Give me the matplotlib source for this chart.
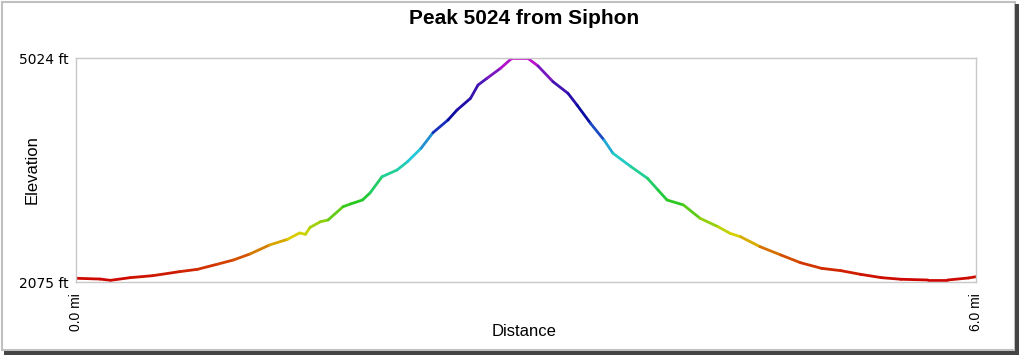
import numpy as np
import matplotlib
matplotlib.use("Agg")
import matplotlib.pyplot as plt
from matplotlib.collections import LineCollection
from matplotlib.colors import LinearSegmentedColormap, Normalize
from matplotlib.patches import Rectangle

# profile (miles, feet)
distance_mi = [0.00, 0.16, 0.23, 0.36, 0.51, 0.69, 0.81, 0.94, 1.05, 1.16,
               1.29, 1.41, 1.49, 1.53, 1.56, 1.63, 1.68, 1.78, 1.83, 1.91,
               1.96, 2.04, 2.14, 2.21, 2.30, 2.38, 2.48, 2.54, 2.63, 2.68,
               2.74, 2.83, 2.90, 2.93, 3.01, 3.08, 3.18, 3.28, 3.34, 3.43,
               3.52, 3.58, 3.70, 3.81, 3.88, 3.94, 4.05, 4.16, 4.28, 4.36,
               4.43, 4.56, 4.70, 4.83, 4.97, 5.10, 5.23, 5.37, 5.50, 5.68,
               5.81, 5.95, 6.00]
elevation_ft = [2124, 2114, 2097, 2132, 2158, 2211, 2242, 2308, 2365, 2444,
                2562, 2637, 2720, 2703, 2793, 2869, 2891, 3066, 3102, 3155,
                3247, 3461, 3549, 3659, 3835, 4041, 4208, 4339, 4493, 4668,
                4757, 4888, 5011, 5024, 5024, 4919, 4712, 4559, 4405, 4164,
                3944, 3769, 3593, 3440, 3286, 3155, 3089, 2914, 2803, 2716,
                2671, 2540, 2430, 2329, 2255, 2224, 2176, 2132, 2111, 2101,
                2101, 2128, 2145]

y_ticks = [2075, 5024]
y_tick_labels = ["2075 ft", "5024 ft"]
x_ticks = [0.0, 6.0]
x_tick_labels = ["0.0 mi", "6.0 mi"]

W, H = 1020, 355

# elevation colours: red low -> magenta at the summit
cmap = LinearSegmentedColormap.from_list("elev", [
    (0.00, "#cc0000"),
    (0.12, "#d45a00"),
    (0.21, "#d8d400"),
    (0.36, "#22c822"),
    (0.50, "#22d0a0"),
    (0.57, "#22c8d8"),
    (0.63, "#2090d0"),
    (0.68, "#1a38c0"),
    (0.75, "#0a0aa0"),
    (0.90, "#5018b8"),
    (1.00, "#d010d0"),
])
norm = Normalize(y_ticks[0], y_ticks[1])

fig = plt.figure(figsize=(W / 100, H / 100), dpi=100)
fig.patch.set_facecolor("white")

ax = fig.add_axes([76 / W, 1 - 282 / H, 900 / W, 224 / H])
ax.set_xlim(x_ticks[0], x_ticks[1])
ax.set_ylim(y_ticks[0], y_ticks[1])

x = np.array(distance_mi)
y = np.array(elevation_ft)
pts = np.column_stack([x, y]).reshape(-1, 1, 2)
segs = np.concatenate([pts[:-1], pts[1:]], axis=1)
mid = (y[:-1] + y[1:]) / 2
lc = LineCollection(segs, colors=cmap(norm(mid)), linewidths=2.0,
                    capstyle="round", joinstyle="round")
ax.add_collection(lc)

for s in ax.spines.values():
    s.set_color("#c8c8c8")
    s.set_linewidth(1.0)

ax.set_yticks(y_ticks, y_tick_labels, fontfamily="DejaVu Sans", fontsize=10)
ax.set_xticks(x_ticks, x_tick_labels, fontfamily="Liberation Sans",
              fontsize=10, rotation=90)
ax.tick_params(axis="y", length=0, pad=5)
ax.tick_params(axis="x", length=0, pad=8)

fig.text(524 / W, 1 - 18 / H, "Peak 5024 from Siphon", ha="center",
         va="center", fontsize=15, fontweight="bold",
         fontfamily="Liberation Sans")
fig.text(32 / W, 1 - 170 / H, "Elevation", ha="center", va="center",
         rotation=90, fontsize=12, fontfamily="Liberation Sans")
fig.text(524 / W, 1 - 331 / H, "Distance", ha="center", va="center",
         fontsize=12, fontfamily="Liberation Sans")

# frame with a dark drop shadow on the right and bottom
fig.add_artist(Rectangle((2 / W, 1 - 350 / H), 1013 / W, 348 / H,
                         transform=fig.transFigure, fill=False,
                         edgecolor="#c0c0c0", linewidth=1.5))
fig.add_artist(Rectangle((1015 / W, 0), 5 / W, 351 / H,
                         transform=fig.transFigure, color="#454545", lw=0))
fig.add_artist(Rectangle((4 / W, 0), 1016 / W, 4.5 / H,
                         transform=fig.transFigure, color="#454545", lw=0))

fig.savefig("out.png", dpi=100)
